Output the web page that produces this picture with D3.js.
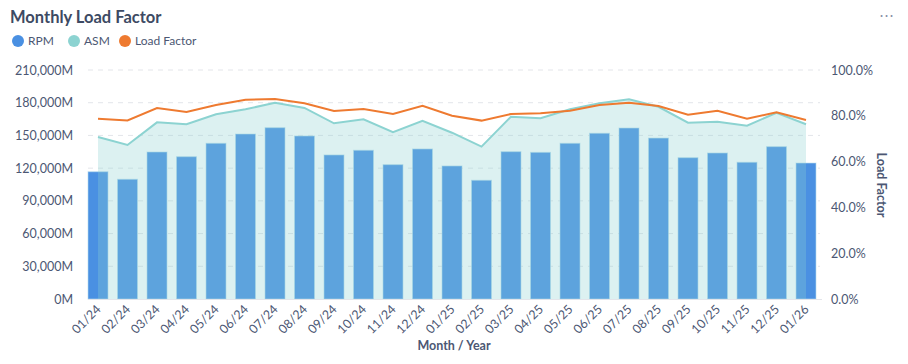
<!DOCTYPE html>
<meta charset="utf-8">
<script src="https://d3js.org/d3.v7.min.js"></script>
<style>
  body { margin: 0; background: #fff; font-family: Lato, "Open Sans", sans-serif; }
  .tick text { fill: #4c5773; }
</style>
<div id="chart"></div>
<script>
// data (values in millions / percent)
var months = ["01/24","02/24","03/24","04/24","05/24","06/24","07/24","08/24","09/24","10/24","11/24","12/24",
              "01/25","02/25","03/25","04/25","05/25","06/25","07/25","08/25","09/25","10/25","11/25","12/25","01/26"];
var rpm = [116700,109800,134800,130500,142800,151300,157100,149500,132100,136400,123200,137600,
           122000,108900,135100,134500,142800,152000,156800,147600,129600,133900,125400,139700,124700];
var asm = [148600,141200,162000,160200,169400,174000,180000,175200,161100,164800,152900,163500,
           152500,139700,167200,165700,174000,179500,183100,176300,161700,162600,158900,170800,160200];
var loadFactor = [78.7,78.0,83.4,81.7,84.7,87.0,87.3,85.5,82.1,83.0,80.8,84.4,
                  80.0,77.9,80.8,81.1,82.2,84.7,85.7,84.3,80.5,82.2,78.7,81.5,78.2];
var leftTicks = [0,30000,60000,90000,120000,150000,180000,210000];
var rightTicks = [0,20,40,60,80,100];

var W = 908, H = 364;
var mLeft = 88, mRight = 820, mTop = 70, mBottom = 299;
var barW = 20;

var svg = d3.select("#chart").append("svg").attr("width", W).attr("height", H);

var x = d3.scalePoint().domain(months).range([mLeft + barW / 2, mRight - 14]);
var y = d3.scaleLinear().domain([0, 210000]).range([mBottom, mTop]);
var y2 = d3.scaleLinear().domain([0, 100]).range([mBottom, mTop]);

// title + legend
svg.append("text").attr("x", 10).attr("y", 23).text("Monthly Load Factor")
  .style("font-size", "16.5px").style("font-weight", 700).style("fill", "#3d4a63");
svg.append("text").attr("x", 886).attr("y", 20).attr("text-anchor", "middle").text("\u22EF")
  .style("font-size", "15px").style("fill", "#8a91a8");

var legend = [
  {name: "RPM", color: "#4a90e2", x: 18},
  {name: "ASM", color: "#8cd3d1", x: 74},
  {name: "Load Factor", color: "#ee7a30", x: 125}
];
var lg = svg.append("g").selectAll("g").data(legend).enter().append("g")
  .attr("transform", function(d) { return "translate(" + d.x + ",41)"; });
lg.append("circle").attr("r", 6).attr("fill", function(d) { return d.color; });
lg.append("text").attr("x", 10).attr("dy", "0.35em").text(function(d) { return d.name; })
  .style("font-size", "12px").style("fill", "#4c5773");

// grid
svg.append("g").selectAll("line").data(leftTicks.slice(1)).enter().append("line")
  .attr("x1", mLeft).attr("x2", mRight)
  .attr("y1", function(d) { return y(d); }).attr("y2", function(d) { return y(d); })
  .attr("stroke", "#e3e5ea").attr("stroke-dasharray", "5,5");

// bars
svg.append("g").selectAll("rect").data(rpm).enter().append("rect")
  .attr("x", function(d, i) { return x(months[i]) - barW / 2; })
  .attr("y", function(d) { return y(d); })
  .attr("width", barW)
  .attr("height", function(d) { return mBottom - y(d); })
  .attr("fill", "#4a90e2")
  .attr("stroke", "#b5dcec").attr("stroke-width", 1).attr("stroke-opacity", 0.6);

// ASM area + line
var area = d3.area().x(function(d, i) { return x(months[i]); })
  .y0(mBottom).y1(function(d) { return y(d); });
svg.append("path").datum(asm).attr("d", area).attr("fill", "#8cd2d2").attr("fill-opacity", 0.3);

var asmLine = d3.line().x(function(d, i) { return x(months[i]); }).y(function(d) { return y(d); });
svg.append("path").datum(asm).attr("d", asmLine).attr("fill", "none")
  .attr("stroke", "#8cd3d1").attr("stroke-width", 2);

// load factor line
var lfLine = d3.line().x(function(d, i) { return x(months[i]); }).y(function(d) { return y2(d); });
svg.append("path").datum(loadFactor).attr("d", lfLine).attr("fill", "none")
  .attr("stroke", "#ee7a30").attr("stroke-width", 2);

// axes
var yAxis = svg.append("g").attr("transform", "translate(" + (mLeft - 10) + ",0)")
  .call(d3.axisLeft(y).tickValues(leftTicks).tickSize(0).tickPadding(5)
    .tickFormat(function(d) { return d3.format(",")(d) + "M"; }));
yAxis.select(".domain").remove();
yAxis.selectAll("text").style("font-size", "12.5px").style("font-family", "Lato, sans-serif");

var y2Axis = svg.append("g").attr("transform", "translate(" + (mRight + 11) + ",0)")
  .call(d3.axisRight(y2).tickValues(rightTicks).tickSize(0).tickPadding(0)
    .tickFormat(function(d) { return d3.format(".1f")(d) + "%"; }));
y2Axis.select(".domain").remove();
y2Axis.selectAll("text").style("font-size", "12.5px").style("font-family", "Lato, sans-serif");

svg.append("line").attr("x1", mLeft).attr("x2", mRight + 2).attr("y1", mBottom + 0.5).attr("y2", mBottom + 0.5)
  .attr("stroke", "#e3e5ea");

var xAxis = svg.append("g").attr("transform", "translate(0," + mBottom + ")")
  .call(d3.axisBottom(x).tickSize(0).tickPadding(0));
xAxis.select(".domain").remove();
xAxis.selectAll("text")
  .attr("text-anchor", "end")
  .attr("transform", "translate(0,8) rotate(-45)")
  .attr("dy", "0.35em")
  .style("font-size", "12.5px").style("font-family", "Lato, sans-serif");

// axis titles
svg.append("text").attr("x", (mLeft + mRight) / 2).attr("y", 350).attr("text-anchor", "middle")
  .text("Month / Year").style("font-size", "12.5px").style("font-weight", 700).style("fill", "#4c5773");
svg.append("text").attr("transform", "translate(877,185) rotate(90)").attr("text-anchor", "middle")
  .text("Load Factor").style("font-size", "12.5px").style("font-weight", 700).style("fill", "#4c5773");
</script>
